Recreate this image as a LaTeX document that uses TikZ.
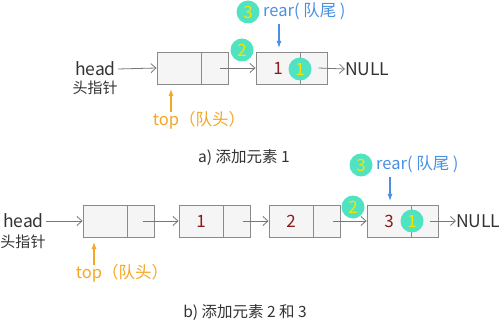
\documentclass[tikz,border=0pt]{standalone}
\usepackage{fontspec}
\setmainfont{Noto Sans CJK SC}
\usetikzlibrary{arrows.meta}
\definecolor{boxfill}{HTML}{F5F5F5}
\definecolor{boxgray}{HTML}{8A8A8A}
\definecolor{arrgray}{HTML}{777777}
\definecolor{txtgray}{HTML}{333333}
\definecolor{mint}{HTML}{50E3C2}
\definecolor{numyel}{HTML}{F2E600}
\definecolor{rearblue}{HTML}{4A90E2}
\definecolor{toporange}{HTML}{F5A623}
\definecolor{valred}{HTML}{8B1A1A}
\tikzset{
  cellbox/.style={draw=boxgray, fill=boxfill, minimum height=32pt, inner sep=0pt, line width=0.9pt},
  datacell/.style={cellbox, minimum width=44pt, text=valred, font=\fontsize{17}{19}\selectfont},
  nextcell/.style={cellbox, minimum width=27pt},
  arr/.style={draw=arrgray, line width=0.8pt, -{Straight Barb[length=5pt,width=9pt]}},
  badge/.style={circle, fill=mint, minimum size=23pt, inner sep=0pt, text=numyel, font=\fontsize{17}{19}\selectfont},
  lbl/.style={text=txtgray, font=\fontsize{17.5}{19}\selectfont, inner sep=0pt},
  cn/.style={text=txtgray, font=\fontsize{15}{17}\selectfont, inner sep=0pt},
  captxt/.style={text=txtgray, font=\fontsize{15.5}{17}\selectfont, inner sep=0pt},
  bluelbl/.style={text=rearblue, font=\fontsize{16.5}{18}\selectfont, inner sep=0pt},
  orglbl/.style={text=toporange, font=\fontsize{16.5}{18}\selectfont, inner sep=0pt},
  bluearr/.style={draw=rearblue, line width=1.2pt, -{Latex[length=7pt,width=5pt]}},
  orgarr/.style={draw=toporange, line width=1.2pt, -{Latex[length=7pt,width=5pt]}}
}
\begin{document}
\begin{tikzpicture}[x=1pt,y=-1pt]
\useasboundingbox (0,0) rectangle (500,320);
% ---------- a) ----------
\node[lbl, anchor=east] (ahead) at (116,69) {head};
\node[cn] (ahcn) at (95,88) {头指针};
\node[datacell] (a1d) at (179,68) {};
\node[nextcell] (a1n) at (214.5,68) {};
\node[datacell] (a2d) at (278,68) {1};
\node[nextcell] (a2n) at (313.5,68) {};
\node[lbl, anchor=west] (anull) at (345,69) {NULL};
\draw[arr] ([xshift=2pt]ahead.east) -- (a1d.west);
\draw[arr] ([xshift=5pt]a1n.center) -- (a2d.west);
\draw[arr] ([xshift=5pt]a2n.center) -- (anull.west);
\node[badge] (ab2) at (242,50) {2};
\node[badge] (ab1) at (300,69) {1};
\node[badge] (ab3) at (248,12) {3};
\node[bluelbl, anchor=west] (arear) at (263,11) {rear( 队尾 )};
\coordinate (arearS) at (279,24);
\coordinate (a2top) at (279,48);
\draw[bluearr] (arearS) -- (a2top);
\node[orglbl] (atop) at (199,120) {top（队头）};
\coordinate (atopN) at (171,112);
\coordinate (a1bot) at (171,89);
\draw[orgarr] (atopN) -- (a1bot);
\node[captxt] (acap) at (244,158) {a) 添加元素 1};
% ---------- b) ----------
\node[lbl, anchor=east] (bhead) at (44,221) {head};
\node[cn] (bhcn) at (23,242) {头指针};
\node[datacell] (b1d) at (105,221) {};
\node[nextcell] (b1n) at (140.5,221) {};
\node[datacell] (b2d) at (201,221) {1};
\node[nextcell] (b2n) at (236.5,221) {};
\node[datacell] (b3d) at (291,221) {2};
\node[nextcell] (b3n) at (326.5,221) {};
\node[datacell] (b4d) at (389,221) {3};
\node[nextcell] (b4n) at (424.5,221) {};
\node[lbl, anchor=west] (bnull) at (456,221) {NULL};
\draw[arr] ([xshift=2pt]bhead.east) -- (b1d.west);
\draw[arr] ([xshift=2pt]b1n.center) -- (b2d.west);
\draw[arr] ([xshift=6pt]b2n.center) -- (b3d.west);
\draw[arr] ([xshift=6pt]b3n.center) -- (b4d.west);
\draw[arr] ([xshift=5pt]b4n.center) -- (bnull.west);
\node[badge] (bb2) at (353,207) {2};
\node[badge] (bb1) at (412,221) {1};
\node[badge] (bb3) at (361,165) {3};
\node[bluelbl, anchor=west] (brear) at (376,164) {rear( 队尾 )};
\coordinate (brearS) at (390,177);
\coordinate (b4top) at (390,201);
\draw[bluearr] (brearS) -- (b4top);
\node[orglbl] (btop) at (122,273) {top（队头）};
\coordinate (btopN) at (94,265);
\coordinate (b1bot) at (94,242);
\draw[orgarr] (btopN) -- (b1bot);
\node[captxt] (bcap) at (245,312) {b) 添加元素 2 和 3};
\end{tikzpicture}
\end{document}
